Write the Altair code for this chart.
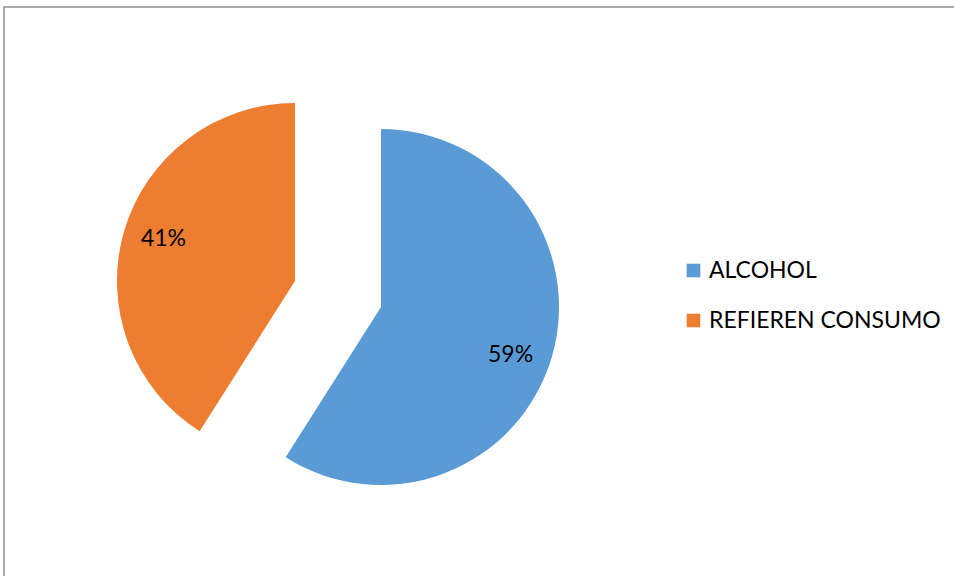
import math
import altair as alt
import pandas as pd

# ---- data ----
categories = ["ALCOHOL", "REFIEREN CONSUMO"]
values = [59, 41]
labels = ["59%", "41%"]
orden = [0, 1]
colors = ["#5B9BD5", "#ED7D31"]

df = pd.DataFrame({"categoria": categories, "valor": values,
                   "etiqueta": labels, "orden": orden})
total = sum(values)

# ---- layout (styles / positions) ----
W, H = 954, 576
CX, CY = 381, 307
R = 178
LABEL_R = 138
EXPLODE = {"ALCOHOL": (0, 0), "REFIEREN CONSUMO": (-86, -26)}
LABEL_NUDGE = {"ALCOHOL": (-3, 9), "REFIEREN CONSUMO": (1, -3)}
FONT = "Lato"

theta_scale = alt.Scale(domain=[0, total], range=[0, 2 * math.pi])
color_scale = alt.Scale(domain=categories, range=colors)
legend = alt.Legend(orient="none", legendX=682, legendY=259, title=None,
                    symbolType="square", symbolSize=185, symbolStrokeWidth=0,
                    labelFont=FONT, labelFontSize=23, labelColor="#000000",
                    labelOffset=4, labelLimit=500, rowPadding=26, padding=0)

base = (alt.Chart(df)
        .transform_window(fin="sum(valor)", sort=[alt.SortField("orden")], frame=[None, 0])
        .transform_calculate(inicio="datum.fin - datum.valor")
        .transform_calculate(medio="(datum.inicio + datum.fin) / 2"))

layers = []
for cat in categories:
    dx, dy = EXPLODE[cat]
    ndx, ndy = LABEL_NUDGE[cat]
    b = base.transform_filter(alt.datum.categoria == cat)
    arc = b.mark_arc(radius=R).encode(
        theta=alt.Theta("inicio:Q", stack=None, scale=theta_scale),
        theta2="fin:Q",
        color=alt.Color("categoria:N", scale=color_scale, legend=legend),
        x=alt.value(CX + dx), y=alt.value(CY + dy),
    )
    txt = b.mark_text(font=FONT, fontSize=23, color="#000000",
                      align="center", baseline="middle", dx=ndx, dy=ndy).encode(
        theta=alt.Theta("medio:Q", stack=None, scale=theta_scale),
        radius=alt.value(LABEL_R),
        text="etiqueta:N",
        x=alt.value(CX + dx), y=alt.value(CY + dy),
    )
    layers += [arc, txt]

border_v = alt.Chart(df).mark_rule(color="#A6A6A6", strokeWidth=1.5).encode(
    x=alt.value(4), y=alt.value(6), y2=alt.value(H))
border_h = alt.Chart(df).mark_rule(color="#A6A6A6", strokeWidth=1.5).encode(
    x=alt.value(3), x2=alt.value(W), y=alt.value(7))

chart = alt.layer(border_v, border_h, *layers).properties(
    width=W, height=H, autosize=alt.AutoSizeParams(type="none"), padding=0,
    background="white",
).configure_view(stroke=None)

chart.save("out.html", embed_options={"renderer": "svg", "actions": False})
